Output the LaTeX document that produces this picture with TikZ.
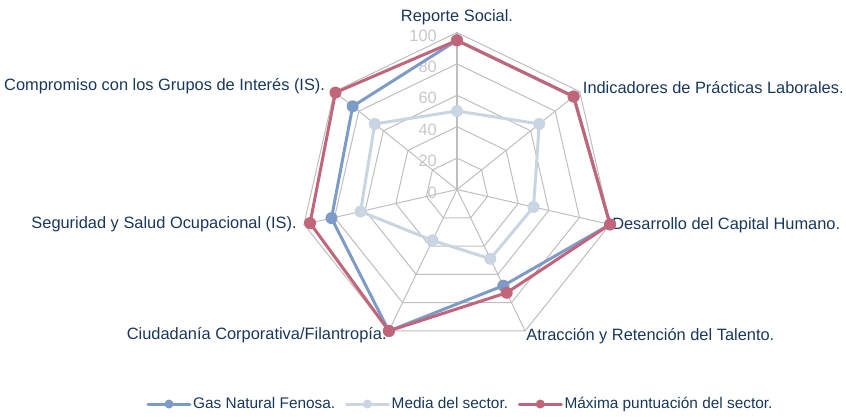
\documentclass[tikz,border=0pt]{standalone}
\usepackage{fontspec}
\setmainfont{Liberation Sans}
\usetikzlibrary{positioning}
\definecolor{rejilla}{RGB}{190,190,190}
\definecolor{escalagris}{RGB}{200,200,200}
\definecolor{azultexto}{RGB}{23,55,94}
\definecolor{gnf}{RGB}{126,155,200}
\definecolor{media}{RGB}{201,213,227}
\definecolor{maxima}{RGB}{193,102,122}
\begin{document}
\begin{tikzpicture}[x=1pt, y=1pt, line join=round, line cap=round,
  font=\fontsize{16.4}{19}\selectfont,
  eje/.style={text=azultexto, inner sep=1pt},
  escala/.style={text=escalagris, inner sep=1pt, anchor=east},
  serie/.style={line width=3pt},
  leyenda/.style={text=azultexto, inner sep=0pt, text height=11pt, text depth=3pt,
    font=\fontsize{15.4}{18}\selectfont}]
\def\r{1.57}
\useasboundingbox (-457,-226.5) rectangle (389,189.5);
% rejilla
\foreach \n in {20,40,...,100}
  \draw[rejilla, line width=1pt] (90:\n*\r) \foreach \k in {1,...,6}{-- ({90-\k*360/7}:\n*\r)} -- cycle;
\foreach \k in {0,...,6}
  \draw[rejilla, line width=1pt] (0,0) -- ({90-\k*360/7}:100*\r);
% escala
\foreach \n in {0,20,...,100}
  \node[escala] (e\n) at (-19,\n*\r-3) {\n};
% ejes
\node[eje, anchor=south] (rep) at (0,100*\r+6) {Reporte Social.};
\node[eje, anchor=west, xshift=2pt, yshift=4pt] (ind) at ({90-360/7}:100*\r) {Indicadores de Prácticas Laborales.};
\node[eje, anchor=west, xshift=1pt, yshift=-1pt] (des) at ({90-2*360/7}:100*\r) {Desarrollo del Capital Humano.};
\node[eje, anchor=west, xshift=0pt, yshift=-5pt] (atr) at ({90-3*360/7}:100*\r) {Atracción y Retención del Talento.};
\node[eje, anchor=east, xshift=-1pt, yshift=-4pt] (ciu) at ({90-4*360/7}:100*\r) {Ciudadanía Corporativa/Filantropía.};
\node[eje, anchor=east, xshift=-6pt, yshift=0pt] (seg) at ({90-5*360/7}:100*\r) {Seguridad y Salud Ocupacional (IS).};
\node[eje, anchor=east, xshift=-8pt, yshift=5pt] (com) at ({90-6*360/7}:100*\r) {Compromiso con los Grupos de Interés (IS).};
% series
\draw[serie, media] (90:50*\r) \foreach \v [count=\k] in {67,50,49,36,63,67} {-- ({90-\k*360/7}:\v*\r)} -- cycle;
\foreach \v [count=\k from 0] in {50,67,50,49,36,63,67}
  \fill[media] ({90-\k*360/7}:\v*\r) circle (6);
\draw[serie, gnf] (90:95*\r) \foreach \v [count=\k] in {95,100,68,100,82,85} {-- ({90-\k*360/7}:\v*\r)} -- cycle;
\foreach \v [count=\k from 0] in {95,95,100,68,100,82,85}
  \fill[gnf] ({90-\k*360/7}:\v*\r) circle (6);
\draw[serie, maxima] (90:95*\r) \foreach \v [count=\k] in {95,100,73,100,96,99} {-- ({90-\k*360/7}:\v*\r)} -- cycle;
\foreach \v [count=\k from 0] in {95,95,100,73,100,96,99}
  \fill[maxima] ({90-\k*360/7}:\v*\r) circle (6);
% leyenda
\node[leyenda, anchor=west] (lgnf) at (-264,-214.5) {Gas Natural Fenosa.};
\node[leyenda, right=11pt+45pt of lgnf] (lmed) {Media del sector.};
\node[leyenda, right=11pt+45pt of lmed] (lmax) {Máxima puntuación del sector.};
\foreach \l/\c in {lgnf/gnf, lmed/media, lmax/maxima}{
  \draw[serie, \c] ([xshift=-45pt]\l.west) -- ([xshift=-3pt]\l.west);
  \fill[\c] ([xshift=-24pt]\l.west) circle (4.5);
}
\end{tikzpicture}
\end{document}
